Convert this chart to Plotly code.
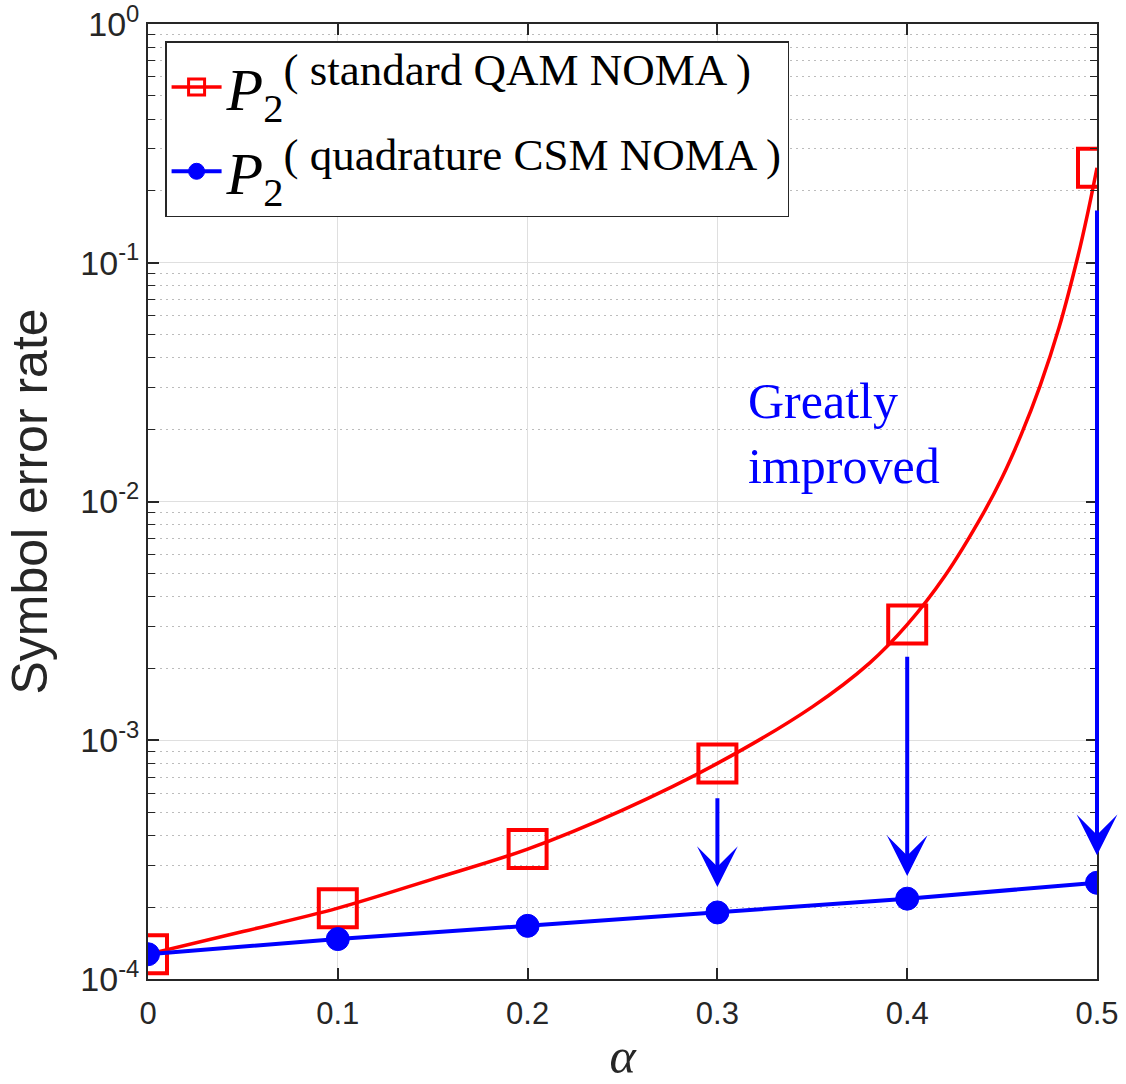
import numpy as np
import plotly.graph_objects as go

# ---------------- data ----------------
alpha_nodes = [0.0, 0.1, 0.2, 0.3, 0.4, 0.5]
qam_nodes = [1.27e-4, 1.98e-4, 3.5e-4, 8.0e-4, 3.05e-3, 0.25]
csm_nodes = [1.27e-4, 1.47e-4, 1.67e-4, 1.90e-4, 2.17e-4, 2.53e-4]

# smooth analytic curve of standard QAM NOMA
alpha_curve = [0.0, 0.05, 0.1, 0.15, 0.2, 0.25, 0.3, 0.35, 0.38, 0.4, 0.42,
               0.44, 0.45, 0.46, 0.47, 0.48, 0.49, 0.495, 0.5]
qam_curve = [1.27e-4, 1.58e-4, 1.98e-4, 2.62e-4, 3.5e-4, 5.1e-4, 8.0e-4, 1.38e-3,
             2.1e-3, 3.05e-3, 4.9e-3, 8.9e-3, 1.26e-2, 1.9e-2, 3.05e-2, 5.35e-2,
             0.107, 0.16, 0.25]

# arrows "greatly improved"
arrow_x = [0.3, 0.4, 0.5]
arrow_from = [5.8e-4, 2.27e-3, 0.168]
arrow_to = [2.43e-4, 2.70e-4, 3.30e-4]

note_text = "Greatly<br>improved"
note_x = 0.3153
note_y = 0.0193

x_ticks = [0, 0.1, 0.2, 0.3, 0.4, 0.5]
x_ticktext = ["0", "0.1", "0.2", "0.3", "0.4", "0.5"]
y_exps = [-4, -3, -2, -1, 0]
y_ticks = [10.0 ** e for e in y_exps]
y_ticktext = ["10<sup>%d</sup>" % e for e in y_exps]
y_minor = [k * 10.0 ** e for e in y_exps[:-1] for k in range(2, 10)]

name_qam = ("<span style='font-size:60px'><i>P</i></span><sub>2</sub>"
            "<sup><span style='font-size:45px'>( standard QAM NOMA )</span></sup>")
name_csm = ("<span style='font-size:60px'><i>P</i></span><sub>2</sub>"
            "<sup><span style='font-size:45px'>( quadrature CSM NOMA )</span></sup>")

RED = "#ff0000"
BLUE = "#0000ff"
AXC = "#262626"

fig = go.Figure()

# red smooth curve
fig.add_trace(go.Scatter(
    x=alpha_curve, y=qam_curve, mode="lines",
    line=dict(color=RED, width=3.5, shape="spline", smoothing=1.0),
    showlegend=False, hoverinfo="skip"))
# red markers
fig.add_trace(go.Scatter(
    x=alpha_nodes, y=qam_nodes, mode="markers",
    marker=dict(symbol="square-open", size=38, color=RED, line=dict(color=RED, width=4)),
    showlegend=False))
# legend entry for red series
fig.add_trace(go.Scatter(
    x=[None], y=[None], mode="lines+markers", name=name_qam, legendgroup="a",
    line=dict(color=RED, width=3.5),
    marker=dict(symbol="square-open", size=16, color=RED, line=dict(color=RED, width=3))))
# blue series
fig.add_trace(go.Scatter(
    x=alpha_nodes, y=csm_nodes, mode="lines+markers", name=name_csm, legendgroup="b",
    line=dict(color=BLUE, width=4),
    marker=dict(symbol="circle", size=23, color=BLUE, line=dict(color=BLUE, width=1))))

# arrows
for xa, y0, y1 in zip(arrow_x, arrow_from, arrow_to):
    fig.add_annotation(
        x=xa, y=np.log10(y1), ax=xa, ay=np.log10(y0),
        xref="x", yref="y", axref="x", ayref="y",
        text="", showarrow=True, arrowhead=3, arrowsize=1.7,
        arrowwidth=4, arrowcolor=BLUE, standoff=0, startstandoff=0)

fig.add_annotation(
    x=note_x, y=np.log10(note_y), xref="x", yref="y",
    text=note_text, showarrow=False, xanchor="left", yanchor="middle", align="left",
    font=dict(family="Liberation Serif", size=50, color=BLUE))

fig.update_xaxes(
    range=[0, 0.5], tickmode="array", tickvals=x_ticks, ticktext=x_ticktext,
    ticks="inside", ticklen=11, tickwidth=1.5, tickcolor=AXC,
    showline=True, linecolor=AXC, linewidth=1.7, mirror="ticks",
    showgrid=True, gridcolor="#dfdfdf", gridwidth=1, zeroline=False,
    ticklabeloverflow="allow", ticklabelstandoff=6, automargin=False,
    tickfont=dict(family="Liberation Sans", size=31, color=AXC),
    title=dict(text="<i>α</i>", font=dict(family="Liberation Serif", size=50, color=AXC),
               standoff=24))

fig.update_yaxes(
    type="log", range=[-4, 0], tickmode="array", tickvals=y_ticks, ticktext=y_ticktext,
    ticks="inside", ticklen=11, tickwidth=1.5, tickcolor=AXC,
    showline=True, linecolor=AXC, linewidth=1.7, mirror="ticks",
    showgrid=True, gridcolor="#dfdfdf", gridwidth=1, zeroline=False,
    ticklabeloverflow="allow", automargin=False,
    tickfont=dict(family="Liberation Sans", size=34, color=AXC),
    minor=dict(tickmode="array", tickvals=y_minor, ticks="inside", ticklen=7,
               tickwidth=1.2, tickcolor=AXC, showgrid=True, gridcolor="#bcbcbc",
               griddash="1.5px,4.5px", gridwidth=1.2),
    title=dict(text="Symbol error rate",
               font=dict(family="Liberation Sans", size=50, color=AXC), standoff=17))

fig.update_layout(
    width=1126, height=1084,
    margin=dict(l=148, r=29, t=24, b=105, autoexpand=False),
    paper_bgcolor="white", plot_bgcolor="white",
    legend=dict(x=0.018, y=0.982, xanchor="left", yanchor="top",
                bgcolor="white", bordercolor=AXC, borderwidth=1.5,
                font=dict(family="Liberation Serif", size=58, color="black"),
                itemwidth=50, tracegroupgap=6, traceorder="grouped"),
)

fig.write_html("out.html", config={"displayModeBar": False},
               post_script="document.body.style.margin='0px';")
